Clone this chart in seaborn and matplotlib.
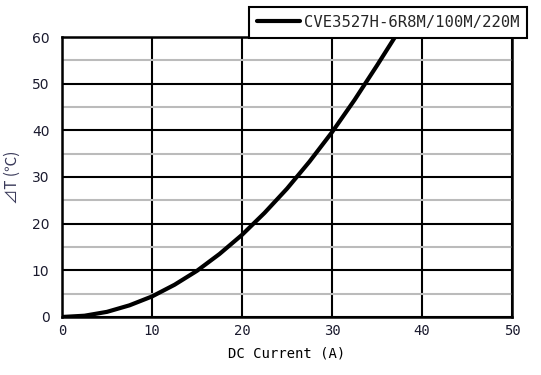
import numpy as np
import pandas as pd
import seaborn as sns
import matplotlib.pyplot as plt
from matplotlib.ticker import MultipleLocator

# values
current = [0, 2.5, 5, 7.5, 10, 12.5, 15, 17.5, 20, 22.5, 25, 27.5, 30, 32.5, 35, 37]
delta_t = [0, 0.27, 1.1, 2.5, 4.4, 6.9, 9.9, 13.5, 17.6, 22.3, 27.5, 33.3, 39.6, 46.5, 53.9, 60.0]
series_name = "CVE3527H-6R8M/100M/220M"

df = pd.DataFrame({"DC Current (A)": current, "dT": delta_t})

sns.set_style("white")
plt.rcParams['font.family'] = ['DejaVu Sans']

fig = plt.figure(figsize=(5.41, 3.75), dpi=100)
ax = fig.add_axes([0.1146, 0.1547, 0.8318, 0.7466])

sns.lineplot(data=df, x="DC Current (A)", y="dT", color="black", linewidth=3,
             label=series_name, ax=ax, zorder=5)
ax.lines[0].set_solid_joinstyle("round")

ax.set_xlim(0, 50)
ax.set_ylim(0, 60)
ax.xaxis.set_major_locator(MultipleLocator(10))
ax.yaxis.set_major_locator(MultipleLocator(10))
ax.yaxis.set_minor_locator(MultipleLocator(5))

ax.grid(which="major", color="black", linewidth=1.5)
ax.grid(which="minor", axis="y", color="#bbbbbb", linewidth=1.5)
ax.set_axisbelow(True)
for s in ax.spines.values():
    s.set_color("black")
    s.set_linewidth(1.8)

ax.tick_params(axis="both", which="both", length=0, colors="#1a1a2e")
ax.tick_params(axis="y", pad=9, labelsize=10)
ax.tick_params(axis="x", pad=5, labelsize=10)
for t in ax.get_xticklabels():
    t.set_family("DejaVu Sans Mono")

ax.set_xlabel("DC Current (A)", family="DejaVu Sans Mono", fontsize=10, color="black", labelpad=6)
ax.set_ylabel("⊿T (℃)", family=["Noto Sans CJK JP", "DejaVu Sans"], fontsize=11,
              color="#3a3a5a", labelpad=8)

leg = ax.legend(loc="upper right", bbox_to_anchor=(0.974, 0.981),
                bbox_transform=fig.transFigure, frameon=True, fancybox=False,
                borderaxespad=0, handlelength=2.8, handletextpad=0.2, borderpad=0.5,
                prop={"family": "DejaVu Sans Mono", "size": 11.2})
leg.get_frame().set_edgecolor("black")
leg.get_frame().set_linewidth(1.5)
leg.get_frame().set_alpha(1)
leg.set_zorder(10)

plt.savefig("out.png", dpi=100)
